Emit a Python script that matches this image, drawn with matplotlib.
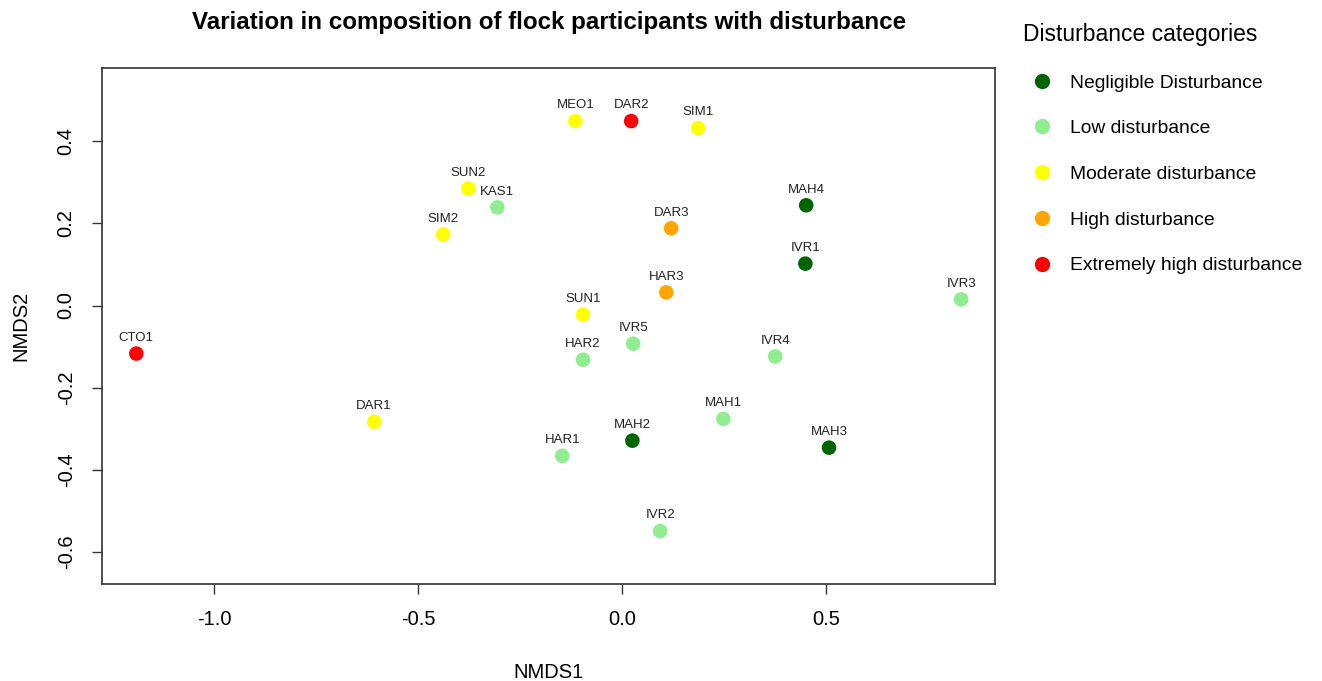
import numpy as np
import matplotlib.pyplot as plt
from matplotlib.lines import Line2D

plt.rcParams['font.family'] = ['Liberation Sans', 'DejaVu Sans']

# NMDS site scores
sites = ['CTO1', 'DAR1', 'SIM2', 'SUN2', 'KAS1', 'MEO1', 'DAR2', 'SIM1',
         'MAH4', 'DAR3', 'IVR1', 'HAR3', 'SUN1', 'IVR5', 'HAR2', 'IVR4',
         'IVR3', 'MAH1', 'MAH2', 'HAR1', 'MAH3', 'IVR2']
nmds1 = [-1.191, -0.608, -0.439, -0.377, -0.306, -0.115, 0.022, 0.186,
         0.451, 0.120, 0.449, 0.108, -0.096, 0.027, -0.096, 0.375,
         0.831, 0.248, 0.025, -0.147, 0.507, 0.093]
nmds2 = [-0.117, -0.283, 0.173, 0.285, 0.239, 0.449, 0.449, 0.432,
         0.244, 0.188, 0.102, 0.032, -0.022, -0.093, -0.132, -0.124,
         0.015, -0.276, -0.329, -0.366, -0.346, -0.549]
# disturbance level of each site, index into categories
level = [4, 2, 2, 2, 1, 2, 4, 2,
         0, 3, 0, 3, 2, 1, 1, 1,
         1, 1, 0, 1, 0, 1]

categories = ['Negligible Disturbance', 'Low disturbance', 'Moderate disturbance',
              'High disturbance', 'Extremely high disturbance']
colours = ['#006400', '#90EE90', '#FFFF00', '#FFA500', '#FF0000']

fig = plt.figure(figsize=(13.22, 6.81), dpi=100)
ax = fig.add_axes([0.0772, 0.1424, 0.6755, 0.7576])

pt_cols = [colours[i] for i in level]
ax.scatter(nmds1, nmds2, s=110, c=pt_cols, edgecolors='none', zorder=3)
for name, x, y in zip(sites, nmds1, nmds2):
    ax.annotate(name, (x, y), xytext=(0, 7), textcoords='offset points',
                ha='center', va='bottom', fontsize=9.5, color='#222222')

ax.set_xlim(-1.275, 0.914)
ax.set_ylim(-0.678, 0.578)
ax.set_xticks([-1.0, -0.5, 0.0, 0.5])
ax.set_xticklabels(['-1.0', '-0.5', '0.0', '0.5'])
ax.set_yticks([-0.6, -0.4, -0.2, 0.0, 0.2, 0.4])
ax.set_yticklabels(['-0.6', '-0.4', '-0.2', '0.0', '0.2', '0.4'],
                   rotation=90, va='center')
ax.tick_params(direction='out', length=7, width=1, labelsize=14.5, pad=12,
               color='#333333')
for sp in ax.spines.values():
    sp.set_color('#333333')
    sp.set_linewidth(1.2)

ax.set_xlabel('NMDS1', fontsize=14.5, labelpad=24)
ax.set_ylabel('NMDS2', fontsize=14.5, labelpad=19)
ax.set_title('Variation in composition of flock participants with disturbance',
             fontsize=17.4, fontweight='bold', pad=28)

handles = [Line2D([], [], ls='none', marker='o', markersize=11,
                  markerfacecolor=c, markeredgecolor='none') for c in colours]
leg = fig.legend(handles, categories, loc='upper left',
                 bbox_to_anchor=(0.7605, 0.992), frameon=False, fontsize=13.9,
                 title='Disturbance categories', title_fontsize=16.5,
                 labelspacing=1.46, handletextpad=0.46, alignment='left')

fig.savefig('out.png', dpi=100)
